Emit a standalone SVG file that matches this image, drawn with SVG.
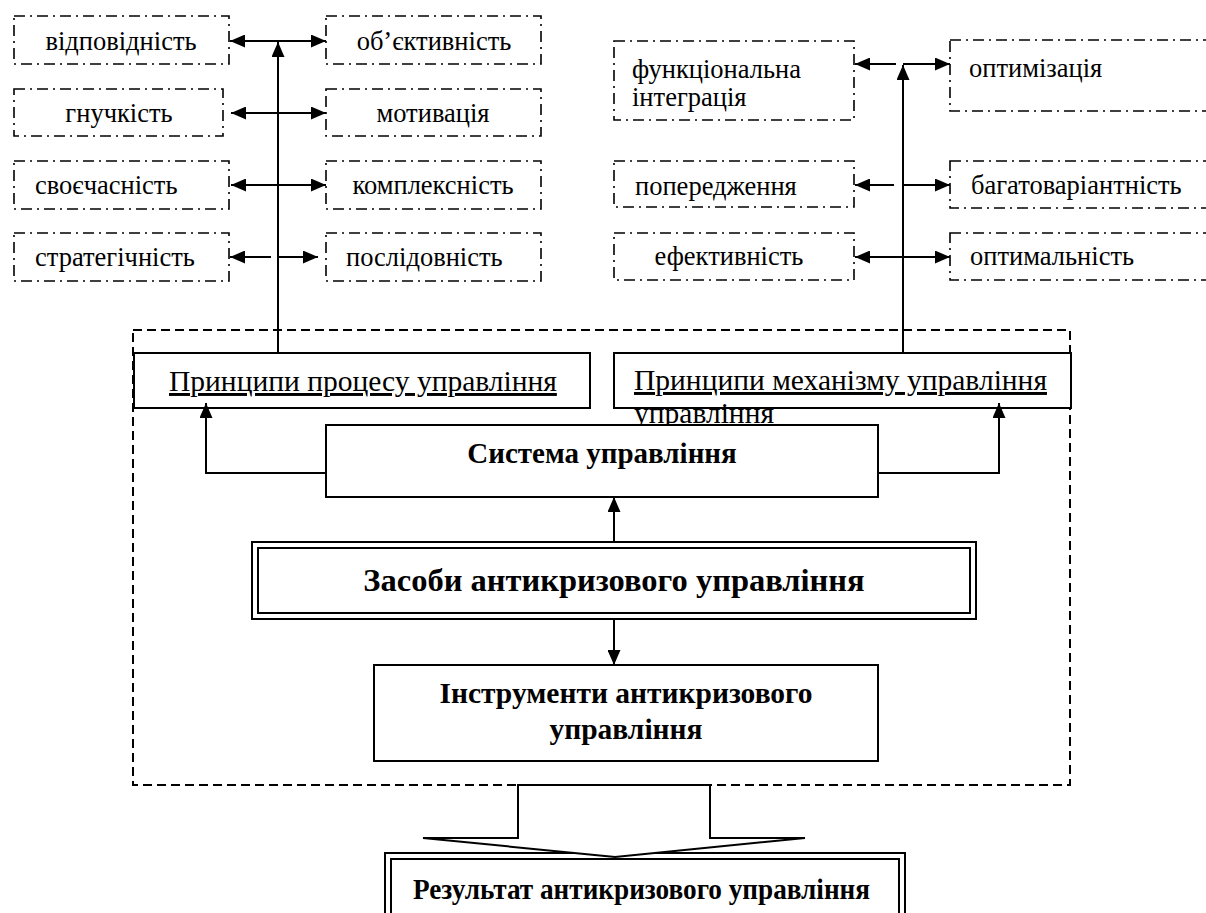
<svg xmlns="http://www.w3.org/2000/svg" width="1206" height="913" viewBox="0 0 1206 913">
<style>
.dd{fill:#fff;stroke:#000;stroke-width:1.6;stroke-dasharray:11 5 2 5}
.bx{fill:#fff;stroke:#000;stroke-width:2}
.dash{fill:none;stroke:#000;stroke-width:2;stroke-dasharray:9 5}
.t{font-family:"Liberation Serif","Times New Roman",serif;font-size:26.5px;fill:#000}
.p{font-size:29.5px}
.u{text-decoration:underline}
.b{font-family:"Liberation Serif","Times New Roman",serif;font-weight:bold;font-size:29px;fill:#000}
.c{text-anchor:middle}
.ln{fill:none;stroke:#000;stroke-width:2}
</style>
<defs>
<marker id="ah" markerUnits="userSpaceOnUse" markerWidth="15" markerHeight="13" refX="15" refY="6.5" orient="auto-start-reverse">
<path d="M0,0 L15,6.5 L0,13 z" fill="#000"/>
</marker>
</defs>
<rect x="133" y="330" width="937" height="455" class="dash"/>
<g id="n-vidpovidnist"><rect x="14" y="16" width="215" height="48" class="dd"/><text x="121" y="50" class="t c">відповідність</text></g>
<g id="n-obiektyvnist"><rect x="326" y="16" width="215" height="48" class="dd"/><text x="434" y="50" class="t c">об’єктивність</text></g>
<g id="n-hnuchkist"><rect x="14" y="89" width="209" height="47" class="dd"/><text x="119" y="122" class="t c">гнучкість</text></g>
<g id="n-motyvatsiia"><rect x="326" y="89" width="215" height="47" class="dd"/><text x="433" y="122" class="t c">мотивація</text></g>
<g id="n-svoiechasnist"><rect x="14" y="161" width="215" height="48" class="dd"/><text x="35" y="194" class="t">своєчасність</text></g>
<g id="n-kompleksnist"><rect x="326" y="161" width="215" height="48" class="dd"/><text x="433" y="194" class="t c">комплексність</text></g>
<g id="n-stratehichnist"><rect x="14" y="233" width="215" height="48" class="dd"/><text x="35" y="266" class="t">стратегічність</text></g>
<g id="n-poslidovnist"><rect x="326" y="233" width="215" height="48" class="dd"/><text x="346" y="266" class="t">послідовність</text></g>
<g id="n-funktsionalna"><rect x="614" y="41" width="240" height="79" class="dd"/><text x="632" y="78" class="t">функціональна</text><text x="632" y="106" class="t">інтеграція</text></g>
<g id="n-optymizatsiia"><rect x="950" y="40" width="280" height="71" class="dd"/><text x="969" y="77" class="t">оптимізація</text></g>
<g id="n-poperedzhennia"><rect x="614" y="161" width="240" height="46" class="dd"/><text x="635" y="195" class="t">попередження</text></g>
<g id="n-bahatovariantnist"><rect x="950" y="161" width="280" height="47" class="dd"/><text x="971" y="194" class="t">багатоваріантність</text></g>
<g id="n-efektyvnist"><rect x="614" y="233" width="240" height="47" class="dd"/><text x="729" y="265" class="t c">ефективність</text></g>
<g id="n-optymalnist"><rect x="950" y="233" width="280" height="47" class="dd"/><text x="970" y="265" class="t">оптимальність</text></g>
<g id="n-pryntsypy-protsesu"><rect x="134" y="353" width="456" height="55" class="bx"/><text x="169" y="391" class="t p u">Принципи процесу управління</text></g>
<g id="n-pryntsypy-mekhanizmu"><rect x="614" y="353" width="457" height="55" class="bx"/><text x="634" y="390" class="t p u">Принципи механізму управління</text><text x="634" y="423" class="t p">управління</text></g>
<g id="n-systema"><rect x="326" y="425" width="552" height="72" class="bx"/><text x="602" y="463" class="b c">Система управління</text></g>
<g id="n-zasoby"><rect x="252" y="542" width="724" height="77" class="bx"/><rect x="258" y="548" width="712" height="65" class="bx"/><text x="614" y="591" class="b c" style="font-size:32.5px">Засоби антикризового управління</text></g>
<g id="n-instrumenty"><rect x="374" y="665" width="504" height="96" class="bx"/><text x="626" y="703" class="b c" style="font-size:29.5px">Інструменти антикризового</text><text x="626" y="739" class="b c" style="font-size:29.5px">управління</text></g>
<g id="n-rezultat"><rect x="385" y="853" width="520" height="80" class="bx"/><rect x="391" y="859" width="508" height="80" class="bx"/><text x="413" y="899" class="b" style="font-size:30px" textLength="457" lengthAdjust="spacingAndGlyphs">Результат антикризового управління</text></g>
<g id="connectors">
<line x1="278" y1="353" x2="278" y2="42" class="ln" marker-end="url(#ah)"/>
<line x1="230" y1="41" x2="326" y2="41" class="ln" marker-start="url(#ah)" marker-end="url(#ah)"/>
<line x1="231" y1="113" x2="326" y2="113" class="ln" marker-start="url(#ah)" marker-end="url(#ah)"/>
<line x1="231" y1="185" x2="326" y2="185" class="ln" marker-start="url(#ah)" marker-end="url(#ah)"/>
<line x1="271" y1="257" x2="230" y2="257" class="ln" marker-end="url(#ah)"/>
<line x1="278" y1="257" x2="318" y2="257" class="ln" marker-end="url(#ah)"/>
<line x1="903" y1="353" x2="903" y2="65" class="ln" marker-end="url(#ah)"/>
<line x1="896" y1="64" x2="855" y2="64" class="ln" marker-end="url(#ah)"/>
<line x1="903" y1="64" x2="950" y2="64" class="ln" marker-end="url(#ah)"/>
<line x1="894" y1="185" x2="855" y2="185" class="ln" marker-end="url(#ah)"/>
<line x1="903" y1="185" x2="950" y2="185" class="ln" marker-end="url(#ah)"/>
<line x1="855" y1="257" x2="950" y2="257" class="ln" marker-start="url(#ah)" marker-end="url(#ah)"/>
<polyline points="326,473 206,473 206,403" class="ln" marker-end="url(#ah)"/>
<polyline points="878,473 999,473 999,403" class="ln" marker-end="url(#ah)"/>
<line x1="614" y1="542" x2="614" y2="497" class="ln" marker-end="url(#ah)"/>
<line x1="614" y1="619" x2="614" y2="665" class="ln" marker-end="url(#ah)"/>
<polygon points="518,785 710,785 710,838 805,838 615,857 423,838 518,838" class="bx"/>
</g>
</svg>
